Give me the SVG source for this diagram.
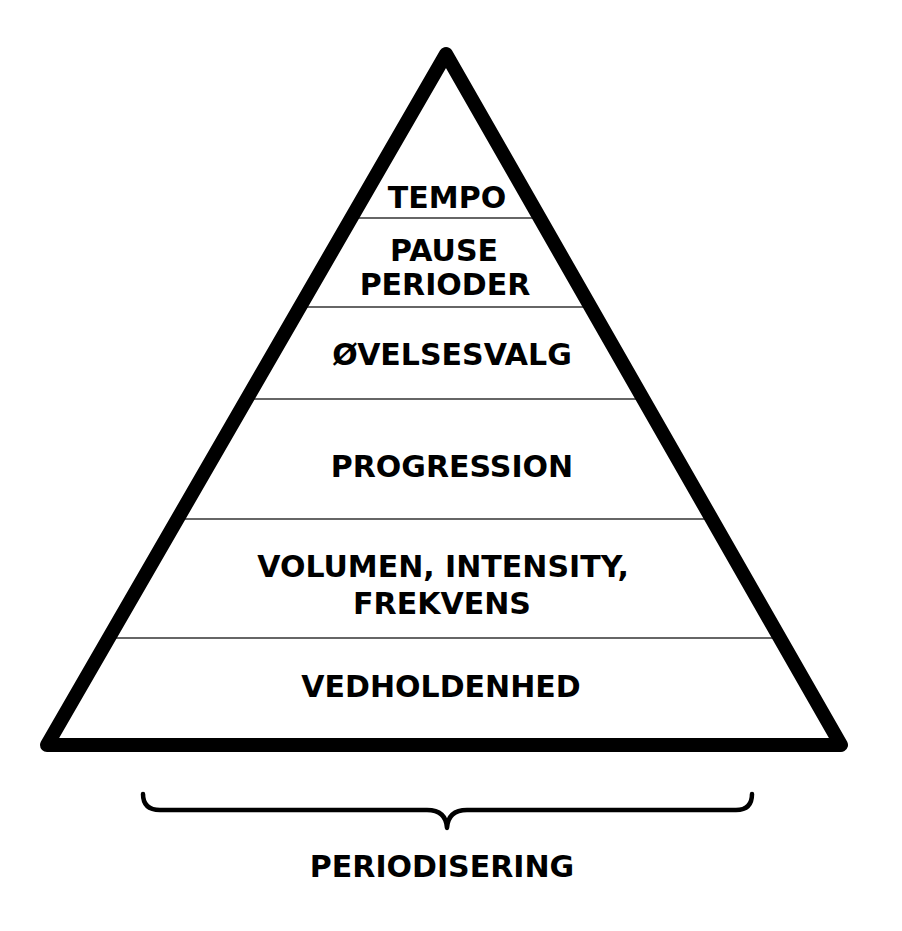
<svg xmlns="http://www.w3.org/2000/svg" width="902" height="931" viewBox="0 0 902 931">
<style>
.lbl{font-family:"DejaVu Sans","Liberation Sans",sans-serif;font-weight:bold;font-size:30px;fill:#000;text-anchor:middle}
.div{stroke:#666;stroke-width:2;fill:none}
</style>
<rect width="902" height="931" fill="#fff"/>
<g id="connectors">
<line class="div" x1="354" y1="218" x2="543" y2="218"/>
<line class="div" x1="302" y1="307" x2="593" y2="307"/>
<line class="div" x1="244" y1="399" x2="642" y2="399"/>
<line class="div" x1="184" y1="519" x2="709" y2="519"/>
<line class="div" x1="112" y1="638" x2="782" y2="638"/>
</g>
<g id="pyramid">
<polygon points="446,54 841,745 47,745" fill="none" stroke="#000" stroke-width="14" stroke-linejoin="round"/>
</g>
<g id="tempo"><text class="lbl" x="447" y="208">TEMPO</text></g>
<g id="pause"><text class="lbl" x="444" y="261">PAUSE</text><text class="lbl" x="445" y="295">PERIODER</text></g>
<g id="ovelsesvalg"><text class="lbl" x="452" y="365">ØVELSESVALG</text></g>
<g id="progression"><text class="lbl" x="452" y="477">PROGRESSION</text></g>
<g id="volumen"><text class="lbl" x="443" y="577">VOLUMEN, INTENSITY,</text><text class="lbl" x="442" y="614">FREKVENS</text></g>
<g id="vedholdenhed"><text class="lbl" x="441" y="697">VEDHOLDENHED</text></g>
<g id="brace">
<path d="M143,794 Q143,810 160,810 L427,810 Q446,810 447,828 Q448,810 467,810 L736,810 Q752,810 752,794" fill="none" stroke="#000" stroke-width="4.5" stroke-linecap="round" stroke-linejoin="round"/>
</g>
<g id="periodisering"><text class="lbl" x="442" y="877">PERIODISERING</text></g>
</svg>
